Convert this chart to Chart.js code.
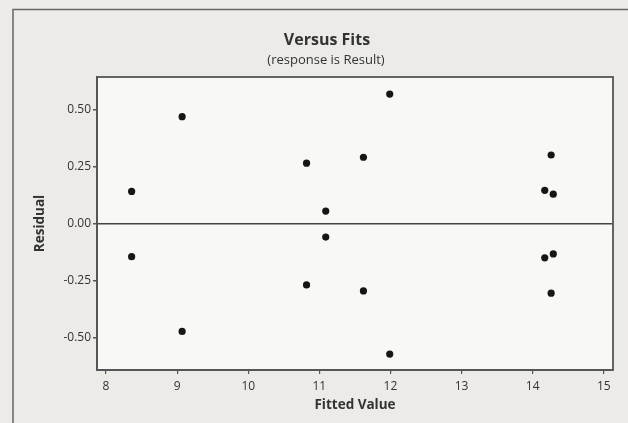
<!DOCTYPE html>
<html>
<head>
<meta charset="utf-8">
<script src="https://cdn.jsdelivr.net/npm/chart.js@4/dist/chart.umd.min.js"></script>
<style>
  html, body { margin: 0; padding: 0; background: #ecebe7; }
  #wrap { width: 628px; height: 423px; }
</style>
</head>
<body>
<div id="wrap"><canvas id="c" width="628" height="423"></canvas></div>
<script>
// Fitted values and residuals (each fit has a pair of observations)
const fittedValues = [8.36, 8.36, 9.07, 9.07, 10.82, 10.82, 11.09, 11.09, 11.62, 11.62,
                      11.99, 11.99, 14.17, 14.17, 14.26, 14.26, 14.29, 14.29];
const residuals    = [0.143, -0.143, 0.471, -0.471, 0.267, -0.267, 0.057, -0.057, 0.293, -0.293,
                      0.570, -0.570, 0.148, -0.148, 0.303, -0.303, 0.131, -0.131];

const xTickValues = [8, 9, 10, 11, 12, 13, 14, 15];
const yTickValues = [-0.50, -0.25, 0.00, 0.25, 0.50];

const chartTitle = 'Versus Fits';
const chartSubtitle = '(response is Result)';
const xTitle = 'Fitted Value';
const yTitle = 'Residual';

const points = fittedValues.map((x, i) => ({ x: x, y: residuals[i] }));

const FONT = '"Open Sans", "DejaVu Sans", sans-serif';
const TEXT = '#333333';
const AXIS = '#555555';

// Graph frame, plot-area fill, plot border and headings
const framePlugin = {
  id: 'frame',
  beforeDraw(chart) {
    const { ctx, chartArea: a } = chart;
    ctx.save();
    ctx.fillStyle = '#ecebe7';
    ctx.fillRect(0, 0, chart.width, chart.height);
    ctx.strokeStyle = '#666';
    ctx.lineWidth = 1.5;
    ctx.strokeRect(13, 9.5, 640, 430);
    ctx.fillStyle = '#f8f8f6';
    ctx.fillRect(a.left, a.top, a.right - a.left, a.bottom - a.top);
    ctx.fillStyle = TEXT;
    ctx.textAlign = 'center';
    ctx.textBaseline = 'middle';
    ctx.font = 'bold 16px ' + FONT;
    ctx.fillText(chartTitle, 327, 40);
    ctx.font = '13px ' + FONT;
    ctx.fillText(chartSubtitle, 326, 60);
    ctx.restore();
  },
  afterDatasetsDraw(chart) {
    const { ctx, chartArea: a } = chart;
    ctx.save();
    ctx.strokeStyle = AXIS;
    ctx.lineWidth = 1.8;
    ctx.strokeRect(a.left, a.top, a.right - a.left, a.bottom - a.top);
    ctx.restore();
  }
};

new Chart(document.getElementById('c'), {
  type: 'scatter',
  data: {
    datasets: [{
      data: points,
      pointRadius: 3.6,
      pointHoverRadius: 3.6,
      pointBackgroundColor: '#161616',
      pointBorderColor: '#161616',
      pointBorderWidth: 0
    }]
  },
  options: {
    responsive: false,
    animation: false,
    events: [],
    layout: { padding: { top: 77, right: 15, bottom: 0, left: 0 } },
    plugins: {
      legend: { display: false },
      tooltip: { enabled: false }
    },
    scales: {
      x: {
        type: 'linear',
        min: 7.873,
        max: 15.13,
        afterBuildTicks(scale) { scale.ticks = xTickValues.map(v => ({ value: v })); },
        afterFit(scale) { scale.height = 53; },
        border: { display: true, color: AXIS, width: 1.8 },
        grid: { drawOnChartArea: false, drawTicks: true, tickLength: 4, color: AXIS, lineWidth: 1.2 },
        ticks: {
          padding: 5,
          color: TEXT,
          font: { family: FONT, size: 12 },
          maxRotation: 0,
          callback: v => String(v)
        },
        title: {
          display: true,
          text: xTitle,
          color: TEXT,
          font: { family: FONT, size: 13.5, weight: 'bold' },
          padding: { top: 0, bottom: 10 }
        }
      },
      y: {
        type: 'linear',
        min: -0.64,
        max: 0.645,
        afterBuildTicks(scale) { scale.ticks = yTickValues.map(v => ({ value: v })); },
        afterFit(scale) { scale.width = 97; },
        border: { display: true, color: AXIS, width: 1.8 },
        grid: {
          drawOnChartArea: true,
          drawTicks: true,
          tickLength: 4,
          tickColor: AXIS,
          lineWidth: 1.5,
          color: ctx => (ctx.tick && ctx.tick.value === 0) ? '#444' : 'rgba(0,0,0,0)'
        },
        ticks: {
          padding: 2,
          color: TEXT,
          font: { family: FONT, size: 12 },
          callback: v => Number(v).toFixed(2)
        },
        title: {
          display: true,
          text: yTitle,
          color: TEXT,
          font: { family: FONT, size: 13.5, weight: 'bold' },
          padding: { top: 32, bottom: 0 }
        }
      }
    }
  },
  plugins: [framePlugin]
});
</script>
</body>
</html>
